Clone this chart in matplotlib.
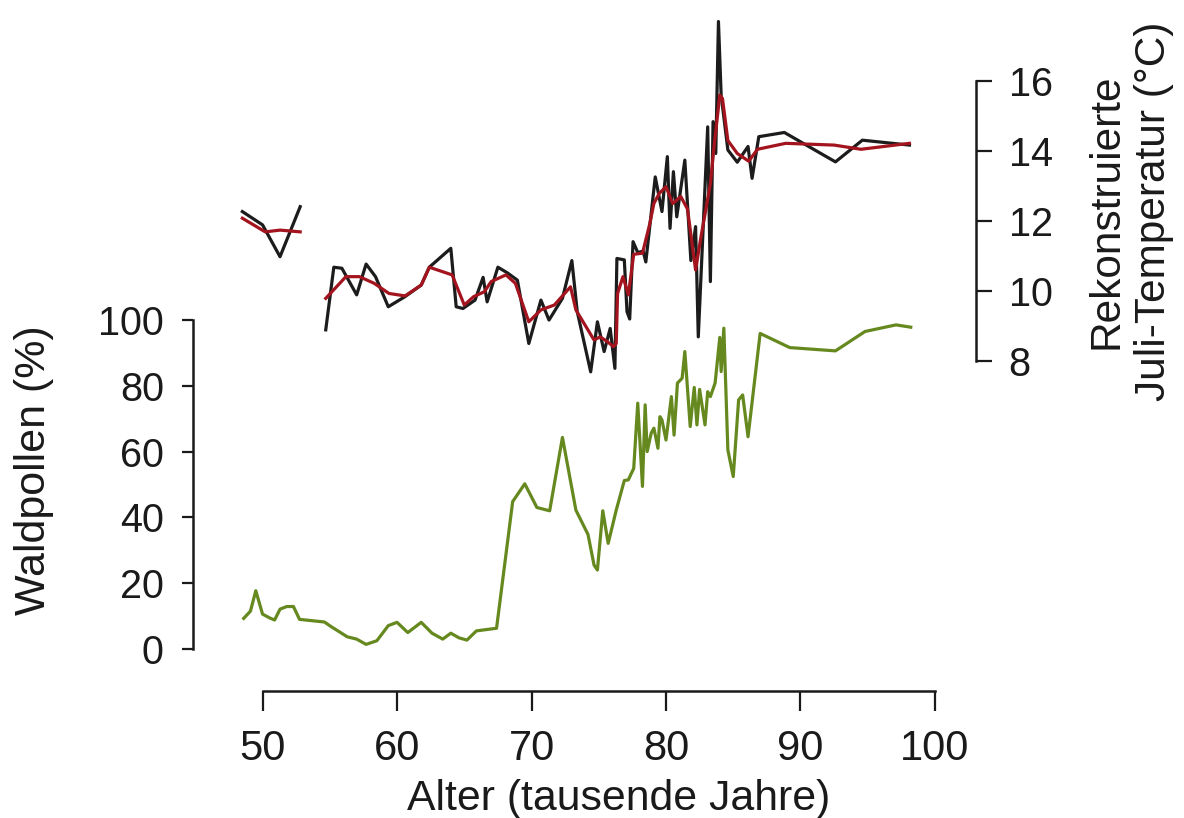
import numpy as np
import matplotlib
matplotlib.use("Agg")
import matplotlib.pyplot as plt

plt.rcParams['font.family'] = ['Liberation Sans', 'DejaVu Sans']

# Waldpollen (%) vs age (ka)
wp_age = [48.6, 49.1, 49.5, 50.0, 50.5, 50.9, 51.3, 51.8, 52.3, 52.75, 54.6, 55.1,
          56.3, 57.0, 57.7, 58.5, 59.35, 60.0, 60.8, 61.8, 62.6, 63.4, 64.0, 64.6,
          65.2, 65.9, 67.4, 68.6, 69.5, 70.4, 71.35, 72.3, 73.3, 74.2, 74.65, 74.9,
          75.3, 75.7, 76.3, 76.9, 77.2, 77.6, 77.9, 78.25, 78.45, 78.6, 78.9, 79.1,
          79.4, 79.55, 79.7, 80.0, 80.4, 80.6, 80.85, 81.2, 81.4, 81.8, 82.1, 82.3,
          82.5, 82.9, 83.1, 83.3, 83.65, 84.0, 84.1, 84.3, 84.6, 85.0, 85.4, 85.7,
          86.1, 87.0, 89.2, 92.6, 94.8, 97.1, 98.2]
wp_val = [9.3, 11.5, 17.7, 10.6, 9.5, 8.8, 12.1, 12.9, 12.9, 9.0, 8.2, 6.8,
          3.7, 3.0, 1.4, 2.5, 7.1, 8.1, 5.0, 8.1, 4.8, 3.0, 4.8, 3.4,
          2.7, 5.5, 6.3, 44.8, 50.2, 43.0, 42.0, 64.3, 42.2, 34.8, 25.5, 24.0,
          42.0, 32.1, 42.2, 51.2, 51.4, 54.9, 74.7, 49.4, 74.2, 60.0, 65.6, 67.1,
          61.0, 70.6, 69.6, 63.5, 76.7, 65.0, 80.8, 82.3, 90.4, 67.6, 79.5, 68.1,
          78.9, 68.1, 78.2, 76.7, 80.8, 94.7, 84.3, 97.5, 60.5, 52.4, 75.7, 77.2,
          64.5, 95.9, 91.6, 90.6, 96.5, 98.5, 97.8]

# reconstructed July temperature (raw)
t_age = [48.5, 50.0, 51.3, 52.8, np.nan, 54.7, 55.3, 55.9, 57.0, 57.7, 58.4, 59.35,
         60.6, 61.8, 62.4, 64.0, 64.4, 64.9, 65.8, 66.4, 66.7, 67.5, 68.2, 68.95,
         69.8, 70.7, 71.3, 72.3, 73.0, 73.4, 74.4, 74.9, 75.4, 75.85, 76.2, 76.35,
         76.9, 77.1, 77.3, 77.55, 77.9, 78.3, 78.5, 79.2, 79.7, 80.1, 80.3, 80.55,
         80.8, 81.4, 81.85, 82.2, 82.4, 83.1, 83.3, 83.5, 83.7, 83.9, 84.1, 84.6,
         85.3, 86.1, 86.4, 86.9, 88.8, 92.6, 94.6, 98.1]
t_raw = [12.27, 11.89, 10.98, 12.41, np.nan, 8.89, 10.68, 10.65, 9.89, 10.77, 10.41, 9.55,
         9.84, 10.17, 10.68, 11.22, 9.55, 9.5, 9.74, 10.39, 9.69, 10.68, 10.52, 10.31,
         8.5, 9.74, 9.17, 9.79, 10.87, 9.41, 7.69, 9.12, 8.27, 8.93, 7.79, 10.93,
         10.89, 9.41, 9.2, 11.41, 11.1, 11.14, 10.83, 13.26, 12.27, 13.84, 11.79, 13.41,
         12.12, 13.74, 10.87, 11.84, 8.69, 14.69, 10.27, 14.84, 13.93, 17.7, 15.6, 14.03,
         13.68, 14.13, 13.22, 14.41, 14.53, 13.69, 14.31, 14.17]

# smoothed temperature
r_age = [48.5, 50.2, 51.3, 52.8, np.nan, 54.7, 56.2, 57.2, 58.3, 59.4,
         60.6, 61.8, 62.4, 64.1, 65.0, 65.7, 66.5, 67.0, 68.1, 68.8,
         69.8, 70.7, 71.7, 72.9, 73.3, 74.65, 75.1, 75.65, 76.1, 76.3,
         76.4, 76.8, 77.2, 77.6, 78.25, 78.8, 79.1, 79.5, 80.0, 80.5,
         81.1, 81.6, 82.2, 82.6, 83.0, 83.3, 83.6, 84.0, 84.2, 84.6,
         85.3, 86.15, 86.8, 88.9, 92.5, 94.5, 98.1]
r_val = [12.08, 11.69, 11.74, 11.69, np.nan, 9.79, 10.41, 10.41, 10.22, 9.93,
         9.86, 10.17, 10.68, 10.46, 9.6, 9.84, 9.98, 10.27, 10.46, 10.22,
         9.12, 9.46, 9.6, 10.12, 9.46, 8.6, 8.69, 8.55, 8.41, 8.5,
         9.93, 10.41, 9.89, 11.05, 11.08, 11.93, 12.5, 12.79, 12.98, 12.5,
         12.7, 12.34, 10.6, 11.55, 12.41, 13.07, 14.22, 15.6, 15.5, 14.3,
         13.93, 13.71, 14.05, 14.22, 14.17, 14.05, 14.22]

x_ticks = [50, 60, 70, 80, 90, 100]
wp_ticks = [0, 20, 40, 60, 80, 100]
t_ticks = [8, 10, 12, 14, 16]

green = '#66891f'
red = '#a3141f'
black = '#1c1c1c'
txt = '#1a1a1a'

W, H = 1184, 818
fig = plt.figure(figsize=(W / 100, H / 100), dpi=100)
ax = fig.add_axes([193 / W, 1 - 691 / H, (976 - 193) / W, (691 - 10) / H])

ax.plot(wp_age, wp_val, color=green, lw=2.3)
ax.set_xlim(44.83, 103.05)
ax.set_ylim(-12.77, 194.2)
ax.spines['top'].set_visible(False)
ax.spines['right'].set_visible(False)
ax.spines['left'].set_bounds(0, 100)
ax.spines['bottom'].set_bounds(50, 100)
for s in ['left', 'bottom']:
    ax.spines[s].set_linewidth(1.8)
    ax.spines[s].set_color(txt)
ax.set_xticks(x_ticks)
ax.set_yticks(wp_ticks)
ax.tick_params(axis='x', length=14.4, width=1.6, pad=13, labelsize=30, colors=txt)
ax.tick_params(axis='y', length=8, width=1.6, pad=13, labelsize=28.5, colors=txt)

ax2 = ax.twinx()
ax2.plot(t_age, t_raw, color=black, lw=2.3)
ax2.plot(r_age, r_val, color=red, lw=2.3)
ax2.set_ylim(-1.43, 18.03)
for s in ['left', 'top', 'bottom']:
    ax2.spines[s].set_visible(False)
ax2.spines['right'].set_bounds(8, 16)
ax2.spines['right'].set_linewidth(1.8)
ax2.spines['right'].set_color(txt)
ax2.set_yticks(t_ticks)
ax2.tick_params(axis='y', length=11.5, width=1.6, pad=12, labelsize=28.5, colors=txt)

fig.text(34 / W, 1 - 470 / H, 'Waldpollen (%)', rotation=90, ha='center', va='center',
         fontsize=31, color=txt)
fig.text(1130 / W, 1 - 211 / H, 'Rekonstruierte\nJuli-Temperatur (°C)', rotation=90,
         ha='center', va='center', multialignment='center', linespacing=1.25,
         fontsize=30.5, color=txt)
fig.text(619 / W, 1 - 810 / H, 'Alter (tausende Jahre)', ha='center', va='baseline',
         fontsize=30.8, color=txt)

fig.savefig('out.png', dpi=100)
